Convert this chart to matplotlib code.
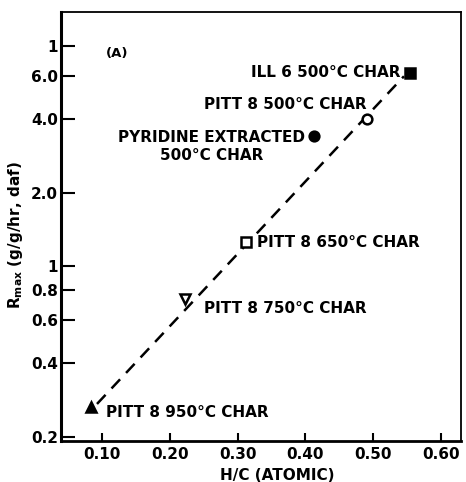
import matplotlib
matplotlib.use('Agg')
import matplotlib.pyplot as plt

# char samples: H/C ratio and maximum reactivity
hc = [0.554, 0.491, 0.412, 0.313, 0.222, 0.084]
rmax = [6.2, 4.0, 3.43, 1.26, 0.736, 0.265]
markers = ['s', 'o', 'o', 's', 'v', '^']
filled = [True, False, True, False, False, True]
names = ['ILL 6 500°C CHAR', 'PITT 8 500°C CHAR', 'PYRIDINE EXTRACTED\n500°C CHAR',
         'PITT 8 650°C CHAR', 'PITT 8 750°C CHAR', 'PITT 8 950°C CHAR']

# dashed correlation line end points
fit_x = [0.093, 0.545]
fit_y = [0.273, 6.0]

xticks = [0.10, 0.20, 0.30, 0.40, 0.50, 0.60]
xlabels = ['0.10', '0.20', '0.30', '0.40', '0.50', '0.60']
yticks = [0.2, 0.4, 0.6, 0.8, 1, 2, 4, 6, 8]
ylabels = ['0.2', '0.4', '0.6', '0.8', '1', '2.0', '4.0', '6.0', '1']

plt.rcParams['font.family'] = 'DejaVu Sans'
plt.rcParams['font.weight'] = 'bold'

fig = plt.figure(figsize=(4.66, 4.82), dpi=100)
ax = fig.add_axes([61 / 466, 1 - 441 / 482, 400 / 466, 429 / 482])

ax.plot(fit_x, fit_y, color='black', lw=1.8, ls=(0, (5, 3.5)), zorder=1)

# label offsets in pixels (x, y) and alignment for each point
offsets = [(-10, 0, 'right'), (-1, 15, 'right'), (-102, -11, 'center'),
           (11, -1, 'left'), (19, -10, 'left'), (15, -5, 'left')]
sizes = {'s': 6.5, 'o': 7, 'v': 7.5, '^': 7.5}

for x, y, m, f, name, (dx, dy, ha) in zip(hc, rmax, markers, filled, names, offsets):
    ax.plot(x, y, marker=m, ms=sizes[m], mew=1.8, color='black',
            mfc='black' if f else 'white', ls='none', zorder=3)
    ax.annotate(name, (x, y), xytext=(dx, dy), textcoords='offset pixels',
                ha=ha, va='center', fontsize=11, fontweight='bold',
                multialignment='center', linespacing=1.3)

ax.text(117, 482 - 53, '(A)', transform=None, fontsize=9.5, fontweight='bold',
        ha='center', va='center')

ax.set_yscale('log')
ax.set_xlim(0.04, 0.629)
ax.set_ylim(0.1925, 11.0)
ax.set_xticks(xticks)
ax.set_xticklabels(xlabels)
ax.set_yticks(yticks)
ax.set_yticklabels(ylabels)
ax.minorticks_off()

ax.tick_params(axis='both', direction='in', labelsize=11, width=1.5, color='black')
ax.tick_params(axis='x', length=6, pad=4)
ax.tick_params(axis='y', length=10, pad=2)
for lab in ax.get_xticklabels() + ax.get_yticklabels():
    lab.set_fontweight('bold')

ax.spines['left'].set_linewidth(2.2)
ax.spines['bottom'].set_linewidth(2.0)
ax.spines['top'].set_linewidth(1.3)
ax.spines['right'].set_linewidth(1.3)

ax.set_xlabel('H/C (ATOMIC)', fontsize=11, fontweight='bold')
ax.xaxis.set_label_coords(0.54, -0.063)
ax.set_ylabel(r'R$_{\mathbf{max}}$ (g/g/hr, daf)', fontsize=11, fontweight='bold')
ax.yaxis.set_label_coords(-0.09, 0.48)

fig.savefig('out.png', dpi=100)
